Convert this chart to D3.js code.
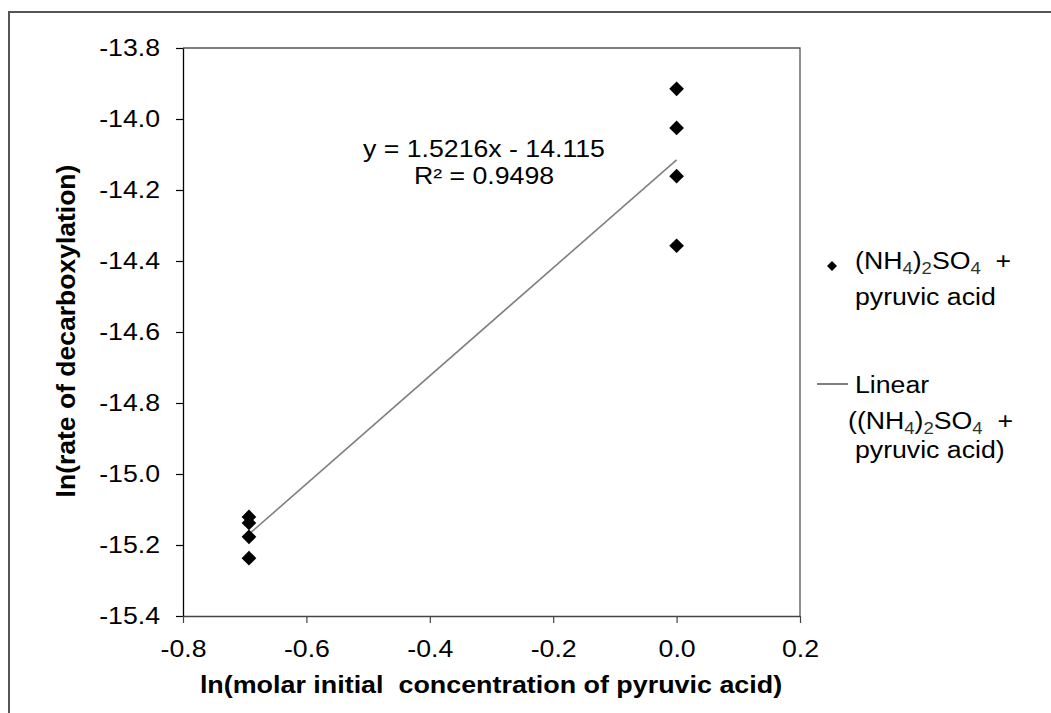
<!DOCTYPE html>
<html><head><meta charset="utf-8">
<script src="https://cdn.jsdelivr.net/npm/d3@7"></script>
<style>
body{margin:0;background:#fff}
text{font-family:"Liberation Sans",Arial,sans-serif;fill:#000;white-space:pre}
</style>
</head><body>
<svg id="chart" width="1051" height="713"></svg>
<script>
// ---- data ----
const xValues = [0, 0, 0, 0, -0.6931, -0.6931, -0.6931, -0.6931];
const yValues = [-13.915, -14.025, -14.161, -14.357, -15.121, -15.138, -15.177, -15.237];
const xTicks = [-0.8, -0.6, -0.4, -0.2, 0.0, 0.2];
const yTicks = [-13.8, -14.0, -14.2, -14.4, -14.6, -14.8, -15.0, -15.2, -15.4];
const trendSlope = 1.5216;
const trendIntercept = -14.115;
const trendRange = [-0.6931, 0];
const equationLines = ["y = 1.5216x - 14.115", "R\u00B2 = 0.9498"];
const xTitle = "ln(molar initial  concentration of pyruvic acid)";
const yTitle = "ln(rate of decarboxylation)";

// ---- layout ----
const SX = 1.16;
const FS = 23;
const svg = d3.select("#chart");
const pL = 183, pR = 800, pT = 48, pB = 616;
const x = d3.scaleLinear().domain([-0.8, 0.2]).range([pL, pR]);
const y = d3.scaleLinear().domain([-15.4, -13.8]).range([pB, pT]);

// outer frame
svg.append("path").attr("d", "M9,713V12H1051").attr("fill", "none")
  .attr("stroke", "#555").attr("stroke-width", 2);

// plot border top/right
svg.append("path").attr("d", `M${pL},${pT}H${pR}V${pB}`)
  .attr("fill", "none").attr("stroke", "#555").attr("stroke-width", 1.3);

// axes
const fmt = d => d3.format(".1f")(d).replace("\u2212", "-");
const yAxis = d3.axisLeft(y).tickValues(yTicks).tickSize(7).tickSizeOuter(0);
const gy = svg.append("g").attr("transform", `translate(${pL},0)`).call(yAxis);
gy.attr("font-family", null).attr("font-size", null);
gy.select(".domain").attr("stroke", "#000").attr("stroke-width", 1.3);
gy.selectAll(".tick line").attr("stroke", "#000").attr("stroke-width", 1.2);
gy.selectAll(".tick text").attr("x", 0).attr("dy", "0.34em")
  .attr("transform", `translate(-23,0) scale(${SX},1)`)
  .style("font-size", FS + "px").attr("fill", "#000")
  .text(fmt);

const xAxis = d3.axisBottom(x).tickValues(xTicks).tickSize(7).tickSizeOuter(0);
const gx = svg.append("g").attr("transform", `translate(0,${pB})`).call(xAxis);
gx.attr("font-family", null).attr("font-size", null);
gx.select(".domain").attr("stroke", "#444").attr("stroke-width", 1.3);
gx.selectAll(".tick line").attr("stroke", "#444").attr("stroke-width", 1.2);
gx.selectAll(".tick text").attr("y", 0).attr("dy", 0)
  .attr("transform", `translate(0,41) scale(${SX},1)`)
  .style("font-size", FS + "px").attr("fill", "#000")
  .text(fmt);

// titles
svg.append("text").attr("transform", `translate(491,693) scale(1.12,1)`)
  .attr("text-anchor", "middle").style("font-size", "24px").style("font-weight", "bold")
  .text(xTitle);
svg.append("text").attr("transform", `translate(75,331) rotate(-90)`)
  .attr("text-anchor", "middle").style("font-size", "26.5px").style("font-weight", "bold")
  .text(yTitle);

// trend line
svg.append("line")
  .attr("x1", x(trendRange[0])).attr("y1", y(trendSlope * trendRange[0] + trendIntercept))
  .attr("x2", x(trendRange[1])).attr("y2", y(trendSlope * trendRange[1] + trendIntercept))
  .attr("stroke", "#7f7f7f").attr("stroke-width", 1.6);

// points
const diamond = d3.symbol(d3.symbolSquare, 108);
svg.append("g").selectAll("path").data(xValues.map((v, i) => [v, yValues[i]]))
  .join("path")
  .attr("d", diamond)
  .attr("transform", d => `translate(${x(d[0])},${y(d[1])}) rotate(45)`)
  .attr("fill", "#000");

// equation
equationLines.forEach((t, i) => {
  svg.append("text").attr("transform", `translate(484,${157 + i * 26.5}) scale(${SX},1)`)
    .attr("text-anchor", "middle").style("font-size", FS + "px").text(t);
});

// legend
function chemText(xp, yp, parts) {
  const t = svg.append("text").attr("transform", `translate(${xp},${yp}) scale(${SX},1)`)
    .style("font-size", FS + "px");
  let sub = false;
  parts.forEach(p => {
    const isSub = p.startsWith("_");
    const txt = isSub ? p.slice(1) : p;
    const ts = t.append("tspan").text(txt);
    if (isSub) ts.style("font-size", "16px").attr("fill", "#333");
    if (isSub && !sub) { ts.attr("dy", 5); sub = true; }
    else if (!isSub && sub) { ts.attr("dy", -5); sub = false; }
  });
  return t;
}
svg.append("path").attr("d", d3.symbol(d3.symbolSquare, 50))
  .attr("transform", "translate(832,266) rotate(45)").attr("fill", "#000");
chemText(855, 269, ["(NH", "_4", ")", "_2", "SO", "_4", "  +"]);
chemText(855, 305, ["pyruvic acid"]);
svg.append("line").attr("x1", 817).attr("x2", 848).attr("y1", 384).attr("y2", 384)
  .attr("stroke", "#555").attr("stroke-width", 1.5);
chemText(855, 393, ["Linear"]);
chemText(848, 429, ["((NH", "_4", ")", "_2", "SO", "_4", "  +"]);
chemText(855, 458, ["pyruvic acid)"]);
</script>
</body></html>
